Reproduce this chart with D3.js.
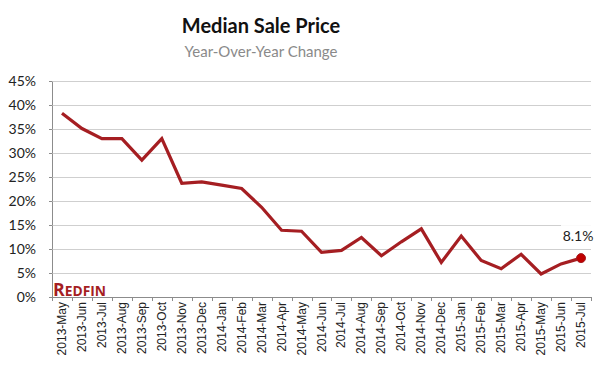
<!DOCTYPE html>
<html>
<head>
<meta charset="utf-8">
<script src="https://cdn.jsdelivr.net/npm/d3@7"></script>
<style>
  body { margin: 0; background: #fff; }
  svg { display: block; }
</style>
</head>
<body>
<div id="chart"></div>
<script>
// month labels along the x axis
const months = [
  '2013-May', '2013-Jun', '2013-Jul', '2013-Aug', '2013-Sep', '2013-Oct',
  '2013-Nov', '2013-Dec', '2014-Jan', '2014-Feb', '2014-Mar', '2014-Apr',
  '2014-May', '2014-Jun', '2014-Jul', '2014-Aug', '2014-Sep', '2014-Oct',
  '2014-Nov', '2014-Dec', '2015-Jan', '2015-Feb', '2015-Mar', '2015-Apr',
  '2015-May', '2015-Jun', '2015-Jul'
];

// year-over-year change in median sale price, percent
const yoyChange = [
  38.3, 35.1, 33.0, 33.0, 28.5, 33.0,
  23.7, 24.0, 23.3, 22.6, 18.7, 13.9,
  13.7, 9.3, 9.7, 12.4, 8.6, 11.5,
  14.2, 7.2, 12.7, 7.6, 5.9, 8.9,
  4.8, 6.9, 8.1
];

const yTicks = [0, 5, 10, 15, 20, 25, 30, 35, 40, 45];

const width = 605, height = 370;
const margin = {top: 81, right: 14, bottom: 73, left: 52};
const red = '#a51e22';

const svg = d3.select('#chart')
  .append('svg')
    .attr('width', width)
    .attr('height', height);

const x = d3.scaleBand()
  .domain(months)
  .range([margin.left, width - margin.right]);

const y = d3.scaleLinear()
  .domain([0, 45])
  .range([height - margin.bottom, margin.top]);

// titles
svg.append('text')
  .attr('x', 261).attr('y', 33)
  .attr('text-anchor', 'middle')
  .style('font-family', 'Lato, "Open Sans", sans-serif')
  .style('font-weight', 'bold')
  .style('font-size', '20px')
  .attr('fill', '#111')
  .text('Median Sale Price');

svg.append('text')
  .attr('x', 261).attr('y', 57)
  .attr('text-anchor', 'middle')
  .style('font-family', 'Lato, "Open Sans", sans-serif')
  .style('font-size', '15px')
  .attr('fill', '#8a8a8a')
  .text('Year-Over-Year Change');

// gridlines + y axis
const yAxis = svg.append('g')
  .attr('transform', 'translate(' + margin.left + ',0)')
  .call(d3.axisLeft(y)
    .tickValues(yTicks)
    .tickSize(3)
    .tickFormat((d) => d + '%'));

yAxis.select('.domain').attr('stroke', '#8c8c8c');
yAxis.selectAll('.tick line').attr('stroke', '#8c8c8c');
yAxis.selectAll('.tick text')
  .attr('x', -16)
  .attr('fill', '#222')
  .style('font-family', 'Lato, "Open Sans", sans-serif')
  .style('font-size', '14px');

svg.append('g')
  .attr('class', 'grid')
  .selectAll('line')
  .data(yTicks.filter((d) => d > 0))
  .enter().append('line')
    .attr('x1', margin.left + 0.5)
    .attr('x2', width - margin.right)
    .attr('y1', (d) => Math.round(y(d)) + 0.5)
    .attr('y2', (d) => Math.round(y(d)) + 0.5)
    .attr('stroke', '#cfcfcf');

// x axis: ticks at band edges, labels at band centres
const xBase = y(0);
svg.append('line')
  .attr('x1', margin.left).attr('x2', width - margin.right)
  .attr('y1', xBase + 0.5).attr('y2', xBase + 0.5)
  .attr('stroke', '#8c8c8c');

svg.append('g')
  .selectAll('line')
  .data(months.concat(['end']))
  .enter().append('line')
    .attr('x1', (d) => Math.round(d === 'end' ? x.range()[1] : x(d)) + 0.5)
    .attr('x2', (d) => Math.round(d === 'end' ? x.range()[1] : x(d)) + 0.5)
    .attr('y1', xBase)
    .attr('y2', xBase + 4)
    .attr('stroke', '#8c8c8c');

svg.append('g')
  .selectAll('text')
  .data(months)
  .enter().append('text')
    .attr('transform', (d) => 'translate(' + (x(d) + x.bandwidth() / 2 + 4) + ',' + (xBase + 5) + ') rotate(-90)')
    .attr('text-anchor', 'end')
    .style('font-family', '"Liberation Sans", Arial, sans-serif')
    .style('font-size', '12px')
    .attr('fill', '#222')
    .text((d) => d);

// line
const line = d3.line()
  .x((d, i) => x(months[i]) + x.bandwidth() / 2)
  .y((d) => y(d));

svg.append('path')
  .datum(yoyChange)
  .attr('fill', 'none')
  .attr('stroke', red)
  .attr('stroke-width', 3.2)
  .attr('stroke-linejoin', 'miter')
  .attr('d', line);

// last point marker and label
const last = yoyChange.length - 1;
const lx = x(months[last]) + x.bandwidth() / 2;
const ly = y(yoyChange[last]);

svg.append('rect')
  .attr('x', lx - 20).attr('y', ly - 33)
  .attr('width', 36).attr('height', 18)
  .attr('fill', '#fff');

svg.append('text')
  .attr('x', lx - 3).attr('y', ly - 17)
  .attr('text-anchor', 'middle')
  .style('font-family', 'Lato, "Open Sans", sans-serif')
  .style('font-size', '14px')
  .attr('fill', '#222')
  .text(yoyChange[last].toFixed(1) + '%');

svg.append('circle')
  .attr('cx', lx).attr('cy', ly)
  .attr('r', 4.5)
  .attr('fill', '#c00000')
  .attr('stroke', red);

// Redfin logo text
const logo = svg.append('text')
  .attr('x', margin.left + 1)
  .attr('y', xBase - 1)
  .attr('fill', red)
  .style('font-family', '"Open Sans", sans-serif')
  .style('font-weight', 'bold')
  .attr('textLength', 53)
  .attr('lengthAdjust', 'spacingAndGlyphs');
logo.append('tspan').style('font-size', '18px').text('R');
logo.append('tspan').style('font-size', '14px').text('EDFIN');
</script>
</body>
</html>
